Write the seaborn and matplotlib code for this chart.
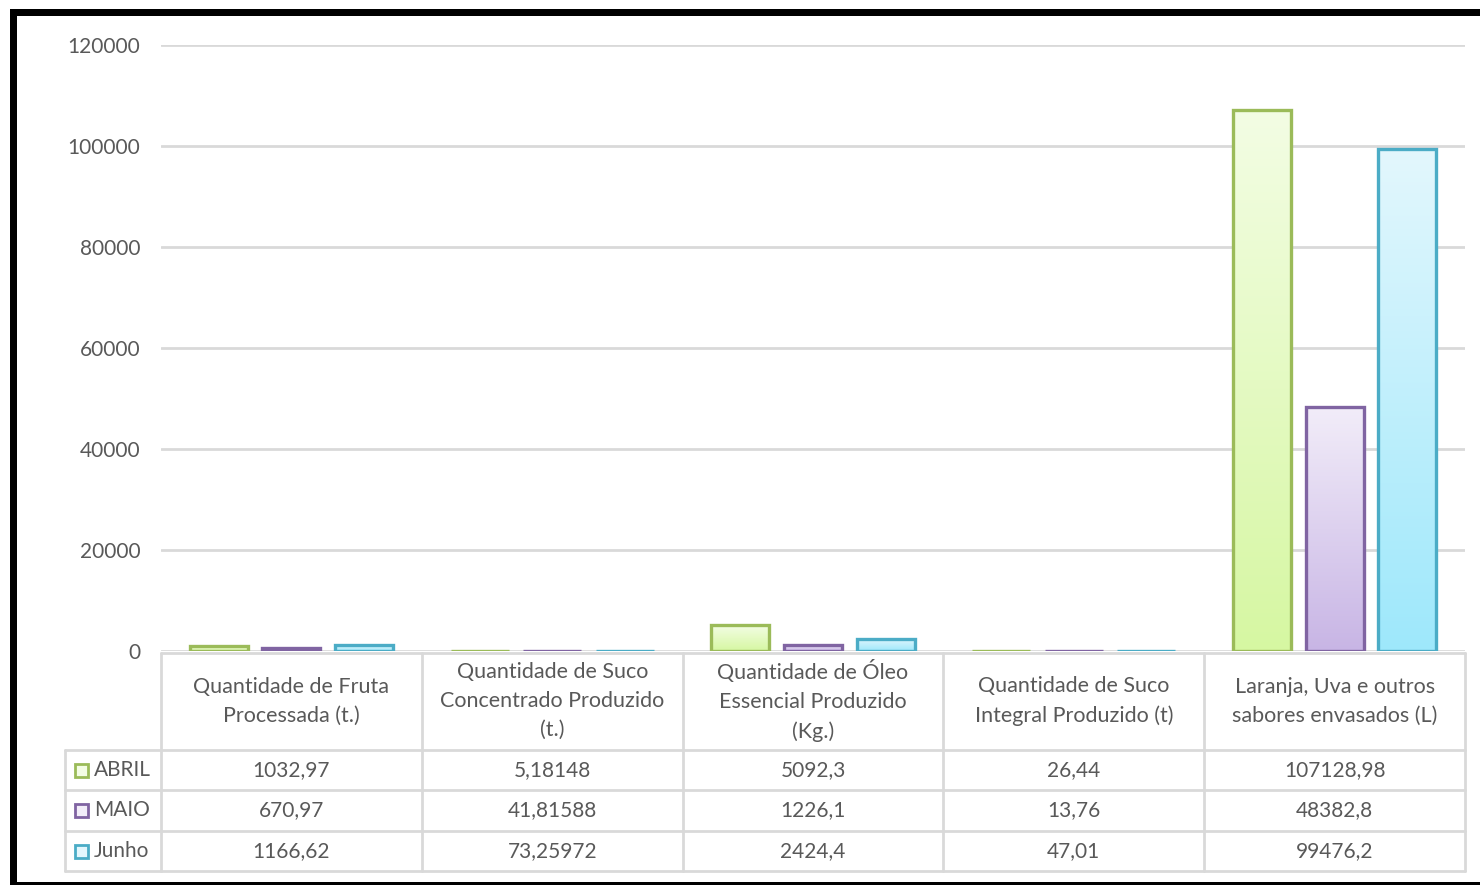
import numpy as np
import pandas as pd
import seaborn as sns
import matplotlib
matplotlib.use("Agg")
from matplotlib import pyplot as plt
from matplotlib.colors import LinearSegmentedColormap
from matplotlib.patches import Rectangle
from matplotlib.lines import Line2D
from matplotlib import transforms

sns.set_style("white")
plt.rcParams['font.family'] = ['Lato', 'DejaVu Sans']

# data
categories = [
    "Quantidade de Fruta\nProcessada (t.)",
    "Quantidade de Suco\nConcentrado Produzido\n(t.)",
    "Quantidade de Óleo\nEssencial Produzido\n(Kg.)",
    "Quantidade de Suco\nIntegral Produzido (t)",
    "Laranja, Uva e outros\nsabores envasados (L)",
]
months = ["ABRIL", "MAIO", "Junho"]
abril = [1032.97, 5.18148, 5092.3, 26.44, 107128.98]
maio = [670.97, 41.81588, 1226.1, 13.76, 48382.8]
junho = [1166.62, 73.25972, 2424.4, 47.01, 99476.2]
yticks = [0, 20000, 40000, 60000, 80000, 100000, 120000]

edges = ["#9bbb59", "#8064a2", "#4bacc6"]
grads = [("#d6f7a2", "#f3fde4"), ("#c8b5e5", "#f2edf9"), ("#9ee8fb", "#e3f7fd")]
txt = "#595959"
grid = "#d9d9d9"

df = pd.DataFrame({
    "cat": categories * 3,
    "mes": sum([[m] * len(categories) for m in months], []),
    "val": abril + maio + junho,
})

W, H = 1480, 885
fig = plt.figure(figsize=(W / 100, H / 100), dpi=100)
ax = fig.add_axes([161 / W, 1 - 651 / H, (1465 - 161) / W, (651 - 45) / H])

sns.barplot(data=df, x="cat", y="val", hue="mes", hue_order=months,
            palette=edges, width=0.835, gap=0.2, legend=False, ax=ax,
            linewidth=2.4, zorder=3)

# gradient fill per bar, edge in series colour
g = np.linspace(0, 1, 256).reshape(-1, 1)
for cont, ec, (c_bot, c_top) in zip(ax.containers, edges, grads):
    cmap = LinearSegmentedColormap.from_list("g", [c_bot, c_top])
    for bar in cont:
        x0, w, h = bar.get_x(), bar.get_width(), bar.get_height()
        im = ax.imshow(g, extent=[x0, x0 + w, 0, h], origin="lower", cmap=cmap,
                       aspect="auto", zorder=2.5)
        im.set_clip_path(bar)
        bar.set_facecolor("none")
        bar.set_edgecolor(ec)

ax.set_xlim(-0.5, len(categories) - 0.5)
ax.set_ylim(0, 120000)
ax.set_yticks(yticks)
ax.set_yticklabels([str(t) for t in yticks], color=txt, fontsize=15)
ax.tick_params(axis="y", length=0, pad=15)
ax.set_xticks([])
ax.set_xlabel("")
ax.set_ylabel("")
ax.yaxis.grid(True, color=grid, lw=2)
ax.set_axisbelow(True)
sns.despine(ax=ax, left=True, bottom=True)

# data table below the axis
tr = transforms.blended_transform_factory(ax.transData, fig.transFigure)
fy = lambda p: 1 - p / H
fx = lambda p: p / W
x_edges = np.arange(len(categories) + 1) - 0.5
row_lines = [750, 790, 831, 871]
for xe in x_edges:
    fig.add_artist(Line2D([xe, xe], [fy(653), fy(871)], transform=tr, color=grid, lw=2))
fig.add_artist(Line2D([x_edges[0], x_edges[-1]], [fy(653), fy(653)], transform=tr, color=grid, lw=2))
for ry in row_lines:
    fig.add_artist(Line2D([fx(65), fx(161)], [fy(ry), fy(ry)], color=grid, lw=2))
    fig.add_artist(Line2D([x_edges[0], x_edges[-1]], [fy(ry), fy(ry)], transform=tr, color=grid, lw=2))
fig.add_artist(Line2D([fx(65), fx(65)], [fy(750), fy(871)], color=grid, lw=2))

for i, cat in enumerate(categories):
    fig.text(i, fy(701), cat, transform=tr, ha="center", va="center",
             color=txt, fontsize=15.5, linespacing=1.55)

row_y = [770, 810, 851]
for vals, m, yy, ec, (c_bot, c_top) in zip([abril, maio, junho], months, row_y, edges, grads):
    fig.add_artist(Rectangle((fx(75), fy(yy + 7)), 13 / W, 13 / H, facecolor=c_top,
                             edgecolor=ec, lw=2, transform=fig.transFigure))
    fig.text(fx(94), fy(yy), m, ha="left", va="center", color=txt, fontsize=15)
    for i, v in enumerate(vals):
        fig.text(i, fy(yy), repr(v).replace(".", ","), transform=tr, ha="center",
                 va="center", color=txt, fontsize=15)

# black frame
fig.add_artist(Rectangle((fx(10), fy(16)), 1 - fx(10), 7 / H, facecolor="black",
                         edgecolor="none", transform=fig.transFigure))
fig.add_artist(Rectangle((fx(10), 0), 7 / W, fy(9), facecolor="black",
                         edgecolor="none", transform=fig.transFigure))
fig.add_artist(Rectangle((fx(10), 0), 1 - fx(10), 3 / H, facecolor="black",
                         edgecolor="none", transform=fig.transFigure))

fig.savefig("out.png", dpi=100)
